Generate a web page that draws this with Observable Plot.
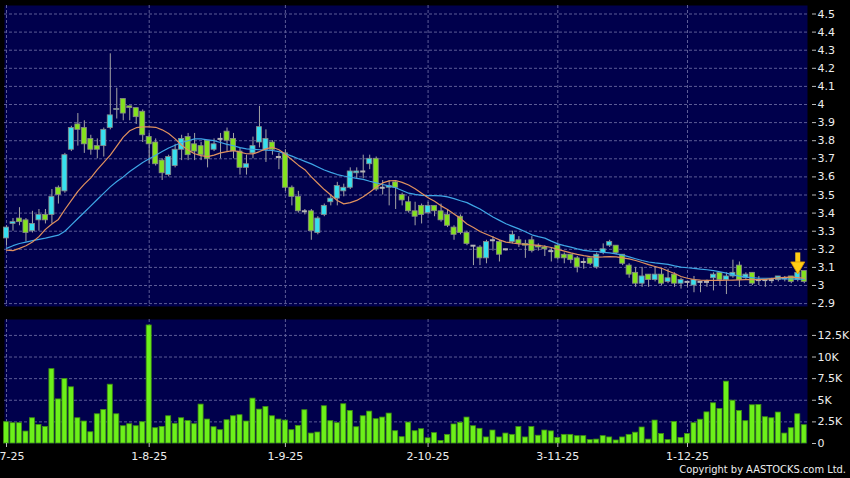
<!DOCTYPE html>
<html><head><meta charset="utf-8">
<script src="https://cdn.jsdelivr.net/npm/d3@7"></script>
<script src="https://cdn.jsdelivr.net/npm/@observablehq/plot@0.6"></script>
<style>
html,body{margin:0;padding:0;background:#000;}
#wrap{position:relative;width:850px;height:478px;background:#000;overflow:hidden;font-family:"DejaVu Sans",sans-serif;}
#price{position:absolute;left:0;top:0;}
#vol{position:absolute;left:0;top:312px;}
#copy{position:absolute;right:4px;top:463px;color:#eee;font:11px "DejaVu Sans Condensed","DejaVu Sans",sans-serif;white-space:nowrap;}
</style></head><body>
<div id="wrap"><div id="price"></div><div id="vol"></div><div id="copy">Copyright by AASTOCKS.com Ltd.</div></div>
<script>
// ---- data ----
const openP = [3.26,3.34,3.37,3.36,3.30,3.36,3.39,3.39,3.54,3.52,3.75,3.89,3.87,3.81,3.77,3.77,3.87,3.97,4.03,3.99,
3.98,3.96,3.82,3.79,3.69,3.61,3.66,3.75,3.82,3.78,3.77,3.80,3.75,3.81,3.85,3.81,3.74,3.65,3.73,3.79,
3.75,3.79,3.71,3.73,3.54,3.49,3.41,3.41,3.29,3.39,3.46,3.48,3.52,3.54,3.62,3.63,3.67,3.70,3.54,3.54,
3.57,3.50,3.46,3.41,3.44,3.40,3.44,3.41,3.39,3.32,3.38,3.29,3.22,3.21,3.15,3.25,3.24,3.20,3.24,3.25,
3.23,3.25,3.22,3.21,3.19,3.22,3.17,3.17,3.15,3.13,3.15,3.10,3.18,3.22,3.22,3.17,3.11,3.07,3.01,3.06,
3.03,3.06,3.02,3.06,3.01,3.02,3.00,3.02,3.02,3.04,3.07,3.03,3.05,3.11,3.04,3.07,3.03,3.03,3.03,3.03,
3.04,3.05,3.03,3.08];
const highP = [3.33,3.37,3.43,3.37,3.41,3.42,3.42,3.53,3.55,3.73,3.88,3.95,3.91,3.83,3.81,3.87,4.28,4.09,4.03,3.99,
3.98,3.97,3.84,3.81,3.70,3.72,3.78,3.83,3.84,3.84,3.79,3.80,3.81,3.84,3.87,3.84,3.76,3.72,3.82,3.99,
3.86,3.80,3.73,3.75,3.55,3.52,3.42,3.42,3.38,3.45,3.50,3.57,3.56,3.65,3.65,3.72,3.72,3.71,3.58,3.58,
3.58,3.51,3.49,3.46,3.45,3.46,3.44,3.45,3.42,3.33,3.39,3.30,3.22,3.22,3.25,3.27,3.25,3.20,3.30,3.27,
3.25,3.27,3.23,3.22,3.21,3.23,3.18,3.17,3.16,3.15,3.15,3.18,3.23,3.25,3.22,3.17,3.12,3.10,3.10,3.06,
3.10,3.09,3.09,3.07,3.04,3.02,3.05,3.02,3.03,3.07,3.07,3.07,3.14,3.13,3.07,3.07,3.05,3.03,3.04,3.05,
3.05,3.05,3.07,3.08];
const lowP = [3.22,3.30,3.33,3.24,3.29,3.30,3.34,3.34,3.45,3.51,3.74,3.77,3.73,3.72,3.70,3.71,3.86,3.92,3.91,3.91,
3.89,3.79,3.67,3.66,3.58,3.60,3.65,3.69,3.69,3.69,3.69,3.65,3.74,3.70,3.74,3.70,3.61,3.61,3.70,3.76,
3.68,3.72,3.64,3.52,3.44,3.40,3.39,3.25,3.28,3.38,3.44,3.44,3.49,3.53,3.59,3.59,3.64,3.52,3.50,3.44,
3.42,3.44,3.40,3.33,3.34,3.39,3.38,3.35,3.32,3.25,3.28,3.22,3.11,3.11,3.12,3.19,3.13,3.19,3.23,3.21,
3.15,3.18,3.19,3.16,3.13,3.14,3.12,3.12,3.07,3.09,3.11,3.09,3.17,3.21,3.17,3.11,3.04,2.99,2.99,2.99,
3.02,3.00,3.01,2.99,2.98,2.99,2.96,2.96,2.99,2.97,3.00,2.95,3.04,2.99,3.03,3.00,3.00,2.99,3.01,3.02,
3.02,3.01,3.02,3.01];
const closeP = [3.32,3.35,3.35,3.29,3.34,3.39,3.36,3.49,3.50,3.72,3.87,3.86,3.78,3.75,3.75,3.86,3.94,3.975,3.95,3.98,
3.93,3.83,3.78,3.67,3.62,3.71,3.75,3.81,3.72,3.74,3.72,3.70,3.78,3.81,3.80,3.74,3.65,3.67,3.77,3.875,
3.81,3.75,3.71,3.54,3.49,3.41,3.41,3.30,3.37,3.44,3.48,3.55,3.54,3.63,3.63,3.63,3.70,3.53,3.54,3.55,
3.54,3.47,3.41,3.38,3.39,3.44,3.41,3.36,3.33,3.28,3.29,3.23,3.22,3.15,3.24,3.25,3.17,3.20,3.28,3.23,
3.22,3.19,3.21,3.20,3.19,3.15,3.15,3.14,3.10,3.13,3.12,3.17,3.20,3.24,3.18,3.12,3.06,3.01,3.05,3.03,
3.06,3.01,3.04,3.01,3.03,3.02,3.03,3.02,3.02,3.06,3.03,3.05,3.07,3.03,3.06,3.01,3.03,3.03,3.03,3.05,
3.04,3.02,3.07,3.02];
const volumeK = [2.46,2.35,2.35,1.38,2.92,2.15,1.92,8.6,5.1,7.46,6.5,2.92,2.54,1.3,3.38,3.88,6.8,3.38,2.0,2.23,
2.0,2.46,13.65,1.77,1.92,3.15,2.27,2.92,2.6,2.23,4.5,2.77,1.88,1.54,2.69,3.15,3.27,2.54,5.19,3.92,
4.23,3.15,2.77,2.65,1.54,2.04,3.85,1.15,1.27,4.31,2.58,2.35,4.54,3.77,1.88,3.15,3.69,2.81,3.0,3.46,
1.42,0.73,2.42,1.42,1.65,0.6,1.2,0.3,1.0,2.2,2.4,3.0,2.0,1.7,0.7,1.5,0.7,1.15,1.0,1.9,
0.7,1.9,0.9,1.5,1.4,0.65,1.0,1.0,0.85,0.85,0.4,0.45,0.85,0.7,0.35,0.7,1.0,1.25,1.85,0.45,
2.65,1.1,0.4,2.5,0.65,1.1,2.35,2.75,3.6,4.65,4.0,7.15,4.95,3.77,2.58,4.42,4.46,3.04,2.92,3.58,
1.15,1.77,3.38,2.12];
const maShort = [3.195,3.193,3.205,3.22,3.24,3.27,3.31,3.34,3.365,3.42,3.47,3.52,3.56,3.595,3.64,3.68,3.72,3.77,3.82,3.855,
3.872,3.876,3.876,3.874,3.86,3.84,3.81,3.775,3.748,3.728,3.718,3.712,3.72,3.733,3.74,3.746,3.737,3.728,3.727,3.74,
3.755,3.764,3.75,3.725,3.695,3.665,3.64,3.60,3.565,3.53,3.50,3.47,3.451,3.458,3.47,3.49,3.515,3.543,3.567,3.578,
3.58,3.57,3.555,3.535,3.51,3.485,3.465,3.44,3.42,3.395,3.37,3.34,3.32,3.298,3.283,3.268,3.252,3.24,3.235,3.23,
3.228,3.225,3.222,3.217,3.21,3.20,3.19,3.18,3.172,3.165,3.16,3.157,3.158,3.16,3.158,3.153,3.147,3.138,3.127,3.115,
3.105,3.095,3.08,3.066,3.05,3.04,3.033,3.03,3.028,3.028,3.028,3.029,3.03,3.031,3.032,3.033,3.033,3.034,3.038,3.042,
3.045,3.046,3.043,3.04];
const maLong = [3.205,3.22,3.232,3.24,3.248,3.255,3.262,3.27,3.278,3.30,3.335,3.37,3.405,3.44,3.475,3.51,3.545,3.575,3.60,3.63,
3.655,3.68,3.70,3.72,3.74,3.76,3.775,3.79,3.80,3.81,3.81,3.805,3.80,3.79,3.78,3.772,3.762,3.755,3.752,3.75,
3.748,3.746,3.74,3.727,3.715,3.70,3.686,3.672,3.655,3.638,3.625,3.613,3.605,3.598,3.592,3.586,3.576,3.567,3.558,3.55,
3.54,3.525,3.51,3.503,3.498,3.497,3.497,3.495,3.49,3.48,3.468,3.458,3.44,3.423,3.40,3.378,3.36,3.341,3.327,3.313,
3.297,3.28,3.27,3.262,3.245,3.23,3.22,3.212,3.202,3.194,3.19,3.188,3.183,3.18,3.175,3.168,3.158,3.148,3.138,3.13,
3.125,3.121,3.117,3.108,3.102,3.098,3.095,3.09,3.087,3.082,3.076,3.068,3.059,3.052,3.046,3.043,3.04,3.04,3.04,3.038,
3.037,3.036,3.035,3.035];
const xTickIndex = [0,22,43,65,85,105];
const xTickLabels = ["2-7-25","1-8-25","1-9-25","2-10-25","3-11-25","1-12-25"];
const priceTicks = [2.9,3.0,3.1,3.2,3.3,3.4,3.5,3.6,3.7,3.8,3.9,4.0,4.1,4.2,4.3,4.4,4.5];
const priceTickLabels = ["2.9","3","3.1","3.2","3.3","3.4","3.5","3.6","3.7","3.8","3.9","4","4.1","4.2","4.3","4.4","4.5"];
const volTicks = [0,2.5,5,7.5,10,12.5];
const volTickLabels = ["0","2.5K","5K","7.5K","10K","12.5K"];
const markerIndex = 122;

// ---- build ----
const bars = openP.map((o,i)=>({i,o,h:highP[i],l:lowP[i],c:closeP[i],v:volumeK[i],mS:maShort[i],mL:maLong[i]}));
const isDoji = d => Math.abs(d.c-d.o) < 0.004;
const up = bars.filter(d => !isDoji(d) && d.c > d.o);
const down = bars.filter(d => !isDoji(d) && d.c < d.o);
const doji = bars.filter(isDoji);

const NAVY = "#00004c", GRID = "#5c5c96", CYAN = "#36e0ef", GREEN = "#84e21e", VOL = "#6cf01a";
const xScale = {type:"linear", domain:[-0.31,123.5]};
const W = 0.39;
const baseStyle = {background:"transparent", color:"#e8e8e8", fontFamily:"DejaVu Sans, sans-serif", fontSize:"11px", overflow:"visible"};

const price = Plot.plot({
  width:850, height:312, marginLeft:4, marginRight:43, marginTop:5, marginBottom:6,
  style: baseStyle,
  x: {...xScale, axis:null},
  y: {domain:[2.884,4.547], axis:null},
  marks: [
    Plot.frame({fill:NAVY, stroke:null}),
    Plot.gridY(priceTicks, {stroke:GRID, strokeOpacity:1, strokeDasharray:"3,2"}),
    Plot.gridX(xTickIndex, {stroke:GRID, strokeOpacity:1, strokeDasharray:"3,2"}),
    Plot.ruleX(bars, {x:"i", y1:"l", y2:"h", stroke:"#a4a4a4", strokeWidth:1}),
    Plot.rect(up, {x1:d=>d.i-W, x2:d=>d.i+W, y1:"o", y2:"c", fill:CYAN, stroke:"#8a8a8a", strokeWidth:0.8}),
    Plot.rect(down, {x1:d=>d.i-W, x2:d=>d.i+W, y1:"o", y2:"c", fill:GREEN, stroke:"#8a8a8a", strokeWidth:0.8}),
    Plot.ruleY(doji, {y:"c", x1:d=>d.i-W, x2:d=>d.i+W, stroke:"#b4b4b4", strokeWidth:2}),
    Plot.line(bars, {x:"i", y:"mL", stroke:"#3ea6e6", strokeWidth:1.2}),
    Plot.line(bars, {x:"i", y:"mS", stroke:"#e0915e", strokeWidth:1.2}),
    Plot.ruleX([markerIndex], {x:d=>d, y1:3.18, y2:3.12, stroke:"#ffcc14", strokeWidth:5}),
    Plot.dot([markerIndex], {x:d=>d, y:3.108, symbol:"triangle", r:5.2, rotate:180, fill:"#ffcc14", stroke:"#e09a00", strokeWidth:0.8}),
    Plot.axisY(priceTicks, {anchor:"right", tickSize:4, tickPadding:2, dx:4, fill:"#eeeeee", stroke:"#bbbbbb", label:null,
      tickFormat:d=>priceTickLabels[priceTicks.indexOf(d)]})
  ]
});
document.getElementById("price").appendChild(price);

const vol = Plot.plot({
  width:850, height:166, marginLeft:4, marginRight:43, marginTop:7, marginBottom:35,
  style: baseStyle,
  x: {...xScale, label:null},
  y: {domain:[0,14.34], axis:null, label:null},
  marks: [
    Plot.frame({fill:NAVY, stroke:null}),
    Plot.gridY(volTicks.slice(1), {stroke:GRID, strokeOpacity:1, strokeDasharray:"3,2"}),
    Plot.gridX(xTickIndex, {stroke:GRID, strokeOpacity:1, strokeDasharray:"3,2"}),
    Plot.rectY(bars, {x1:d=>d.i-W, x2:d=>d.i+W, y:"v", fill:VOL, stroke:"#3f8f12", strokeWidth:0.8}),
    Plot.axisY(volTicks, {anchor:"right", tickSize:4, tickPadding:2, dx:4, fill:"#eeeeee", stroke:"#bbbbbb", label:null,
      tickFormat:d=>volTickLabels[volTicks.indexOf(d)]}),
    Plot.axisX(xTickIndex, {anchor:"bottom", tickSize:4, tickPadding:5, fill:"#eeeeee", stroke:"#bbbbbb", label:null,
      tickFormat:d=>xTickLabels[xTickIndex.indexOf(d)]})
  ]
});
document.getElementById("vol").appendChild(vol);
</script>
</body></html>
